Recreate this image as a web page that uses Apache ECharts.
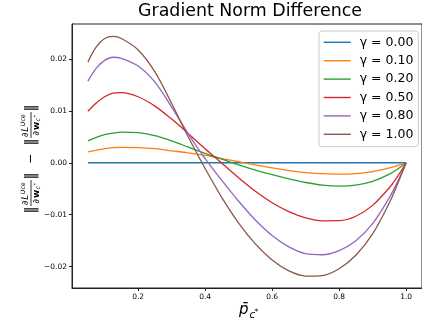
<!DOCTYPE html>
<html>
<head>
<meta charset="utf-8">
<script src="https://cdn.jsdelivr.net/npm/echarts@6.0.0/dist/echarts.min.js"></script>
<style>
  html, body { margin: 0; padding: 0; background: #fff; }
  #chart { width: 422px; height: 320px; }
</style>
</head>
<body>
<div id="chart"></div>
<script>
  // p_bar sample positions (shared by all curves)
  const pBar = [0.05, 0.075, 0.1, 0.125, 0.15, 0.2, 0.25, 0.3, 0.35, 0.4, 0.45, 0.5,
                0.55, 0.6, 0.65, 0.7, 0.75, 0.8, 0.85, 0.9, 0.95, 0.975, 1.0];

  const gamma000 = [0, 0, 0, 0, 0, 0, 0, 0, 0, 0, 0, 0, 0, 0, 0, 0, 0, 0, 0, 0, 0, 0, 0];
  const gamma010 = [0.0021, 0.0024, 0.0027, 0.0029, 0.00296, 0.00292, 0.0027, 0.0023, 0.0019, 0.0014, 0.0008, 0.0002,
                    -0.0004, -0.0010, -0.0015, -0.0019, -0.0021, -0.0022, -0.0021, -0.0017, -0.0010, -0.0005, 0];
  const gamma020 = [0.0042, 0.0049, 0.0054, 0.0057, 0.0059, 0.0058, 0.0052, 0.0042, 0.0030, 0.0018, 0.0007, -0.0004,
                    -0.0014, -0.0023, -0.0031, -0.0038, -0.0043, -0.0045, -0.0043, -0.0036, -0.0022, -0.0012, 0];
  const gamma050 = [0.0099, 0.0115, 0.0127, 0.0134, 0.0135, 0.0127, 0.0109, 0.0084, 0.0056, 0.0027, -0.0001, -0.0029,
                    -0.0055, -0.0077, -0.0094, -0.0106, -0.01118, -0.01115, -0.0103, -0.0082, -0.0048, -0.0026, 0];
  const gamma080 = [0.0157, 0.0182, 0.0197, 0.0203, 0.0201, 0.0186, 0.0155, 0.0107, 0.0055, 0.0008, -0.0034, -0.0074,
                    -0.0110, -0.0140, -0.0162, -0.0175, -0.0177, -0.0169, -0.0150, -0.0117, -0.0067, -0.0036, 0];
  const gamma100 = [0.0194, 0.0223, 0.0239, 0.0243, 0.0239, 0.0217, 0.0175, 0.0114, 0.0049, -0.0011, -0.0067, -0.0116,
                    -0.0156, -0.0187, -0.0208, -0.0218, -0.0217, -0.0204, -0.0178, -0.0137, -0.0077, -0.0040, 0];

  const seriesNames = ['γ = 0.00', 'γ = 0.10', 'γ = 0.20', 'γ = 0.50', 'γ = 0.80', 'γ = 1.00'];
  const seriesValues = [gamma000, gamma010, gamma020, gamma050, gamma080, gamma100];
  const colors = ['#1f77b4', '#ff7f0e', '#2ca02c', '#d62728', '#9467bd', '#8c564b'];

  const xTicks = [0.2, 0.4, 0.6, 0.8, 1.0];
  const yTicks = [-0.02, -0.01, 0, 0.01, 0.02];

  const FONT = 'DejaVu Sans';

  function txt(x, y, text, size, opts) {
    opts = opts || {};
    return {
      type: 'text', x: x, y: y, silent: true,
      style: {
        text: text, fontSize: size, fontFamily: FONT,
        fontStyle: opts.italic ? 'italic' : 'normal',
        fontWeight: opts.bold ? 'bold' : 'normal',
        fill: '#000',
        textAlign: opts.align || 'left', align: opts.align || 'left',
        textVerticalAlign: opts.va || 'middle', verticalAlign: opts.va || 'middle'
      }
    };
  }

  // one ‖∂L^Uce / ∂w_c*‖ block, laid out horizontally around cx
  function normBlock(cx) {
    return [
      txt(cx - 17, 0, '‖', 14, { align: 'center' }),
      txt(cx - 12, -1.2, '∂', 9, { va: 'bottom' }),
      txt(cx - 6.8, -1.2, 'L', 9, { italic: true, va: 'bottom' }),
      txt(cx - 1.2, -4.2, 'Uce', 6.3, { italic: true, va: 'bottom' }),
      { type: 'line', silent: true, shape: { x1: cx - 13, y1: 0, x2: cx + 13, y2: 0 },
        style: { stroke: '#000', lineWidth: 0.8 } },
      txt(cx - 10.5, 1.3, '∂', 9, { va: 'top' }),
      txt(cx - 5, 1.3, 'w', 9, { bold: true, va: 'top' }),
      txt(cx + 3.6, 4.6, 'c', 6.3, { italic: true, va: 'top' }),
      txt(cx + 7.4, 2.4, '*', 4.8, { va: 'top' }),
      txt(cx + 17, 0, '‖', 14, { align: 'center' })
    ];
  }

  const yName = {
    type: 'group', x: 31, y: 159, rotation: Math.PI / 2,
    children: normBlock(-34).concat([txt(0, 0, '−', 12, { align: 'center' })]).concat(normBlock(34))
  };

  const xName = {
    type: 'group', x: 0, y: 0,
    children: [
      txt(239, 318, 'p̄', 15, { italic: true, va: 'bottom' }),
      txt(249.5, 321, 'c', 10.5, { italic: true, va: 'bottom' }),
      txt(254.5, 316.5, '*', 7.5, { va: 'bottom' })
    ]
  };

  const chart = echarts.init(document.getElementById('chart'), null, { renderer: 'canvas' });

  const fmt = (v) => {
    return v < 0 ? '−' + Math.abs(v).toFixed(2) : v.toFixed(2);
  };

  const option = {
    animation: false,
    backgroundColor: '#fff',
    color: colors,
    title: {
      text: 'Gradient Norm Difference',
      left: 250, top: 3, textAlign: 'center', padding: 0,
      textStyle: { fontFamily: FONT, fontSize: 17.4, fontWeight: 'normal', color: '#000' }
    },
    grid: {
      left: 72, top: 24, width: 356, height: 264,
      show: true, borderColor: '#222', borderWidth: 1, backgroundColor: 'transparent'
    },
    legend: {
      orient: 'vertical', left: 319, top: 31,
      padding: [4.3, 5, 5.4, 4.7],
      itemWidth: 27, itemHeight: 14, itemGap: 4.4,
      icon: 'path://M0 0H270V14H0Z',
      backgroundColor: 'rgba(255,255,255,0.8)',
      borderColor: '#cccccc', borderWidth: 1, borderRadius: 3,
      textStyle: { fontFamily: FONT, fontSize: 12.5, color: '#000', lineHeight: 14, padding: [0, 0, 0, 4] },
      data: seriesNames
    },
    xAxis: {
      type: 'value', min: 0.0025, max: 1.0475,
      splitLine: { show: false },
      axisLine: { show: true, onZero: false, lineStyle: { color: '#222', width: 1 } },
      axisTick: { show: true, customValues: xTicks, length: 3, lineStyle: { color: '#222' } },
      axisLabel: {
        customValues: xTicks, margin: 5, fontSize: 7.5, fontFamily: FONT, color: '#000',
        formatter: (v) => v.toFixed(1)
      }
    },
    yAxis: {
      type: 'value', min: -0.0241, max: 0.0267,
      splitLine: { show: false },
      axisLine: { show: true, onZero: false, lineStyle: { color: '#222', width: 1 } },
      axisTick: { show: true, customValues: yTicks, length: 3, lineStyle: { color: '#222' } },
      axisLabel: {
        customValues: yTicks, margin: 5, fontSize: 7.5, fontFamily: FONT, color: '#000',
        formatter: fmt
      }
    },
    graphic: [yName, xName],
    series: seriesNames.map((name, i) => ({
      name: name,
      type: 'line',
      data: pBar.map((p, j) => [p, seriesValues[i][j]]),
      smooth: 0.35,
      symbol: 'none',
      lineStyle: { width: 1.3, color: colors[i] },
      itemStyle: { color: colors[i] }
    }))
  };

  chart.setOption(option);
</script>
</body>
</html>
